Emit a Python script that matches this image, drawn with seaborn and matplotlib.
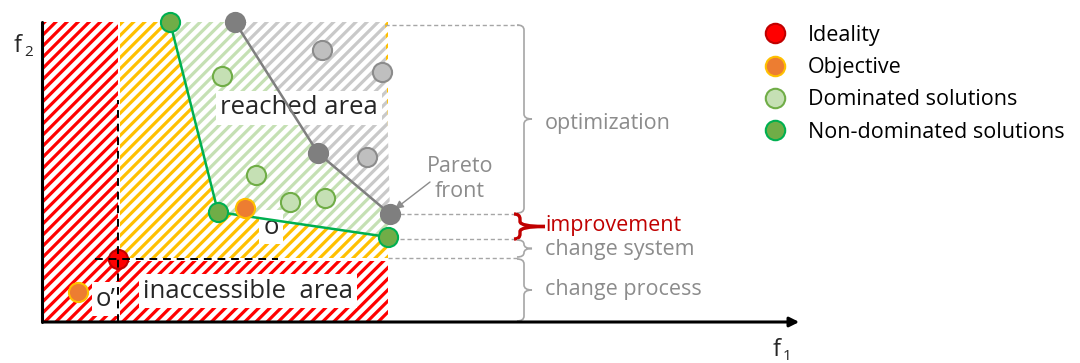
import matplotlib
matplotlib.use("Agg")
import matplotlib.pyplot as plt
from matplotlib.patches import Polygon, PathPatch
from matplotlib.path import Path
from matplotlib.lines import Line2D
import pandas as pd
import seaborn as sns

# objective space coordinates (f1, f2), origin at the axes corner
gray_front_f1 = [193, 276, 348]
gray_front_f2 = [300, 169, 108]
green_front_f1 = [128, 176, 346]
green_front_f2 = [300, 110, 85]
dominated_gray_f1 = [280, 340, 325]
dominated_gray_f2 = [272, 250, 165]
dominated_green_f1 = [180, 214, 248, 283]
dominated_green_f2 = [246, 147, 120, 124]
objective_f1 = [203, 36]
objective_f2 = [114, 30]
ideality_f1 = [76]
ideality_f2 = [63]

top_f2 = 300
right_f1 = 346

legend_labels = ["Ideality", "Objective", "Dominated solutions", "Non-dominated solutions"]
bracket_labels = ["optimization", "improvement", "change system", "change process"]

sns.set_theme(style="white")
plt.rcParams["font.family"] = ["Open Sans", "DejaVu Sans"]
plt.rcParams["hatch.linewidth"] = 2.3

fig = plt.figure(figsize=(10.8, 3.63), dpi=100)
ax = fig.add_axes([0, 0, 1, 1])
ax.set_xlim(-42, 1038)
ax.set_ylim(-41, 322)
ax.axis("off")


def hatched(points, color, face="white"):
    ax.add_patch(Polygon(points, closed=True, facecolor=face, edgecolor=color,
                         hatch="///", linewidth=0, zorder=1))


# areas
hatched([(0, top_f2), (ideality_f1[0], top_f2), (ideality_f1[0], 61), (right_f1, 61),
         (right_f1, 0), (0, 0)], "#FF0000")
hatched([(78, top_f2), (right_f1, top_f2), (right_f1, 64), (78, 64)], "#FFC000")
green_poly = list(zip(green_front_f1, green_front_f2)) + list(zip(gray_front_f1, gray_front_f2))[::-1]
hatched(green_poly, "#C5E0B4")
gray_poly = list(zip(gray_front_f1, gray_front_f2)) + [(343, top_f2)]
hatched(gray_poly, "#C9C9C9")

# axes arrows
ax.plot([0, 0], [0, top_f2], color="black", lw=2.2, zorder=6)
ax.annotate("", xy=(760, 0), xytext=(-1, 0),
            arrowprops=dict(arrowstyle="-|>", color="black", lw=2.2, mutation_scale=14), zorder=6)
ax.text(-24, 276, "f", fontsize=17, ha="center", va="center")
ax.text(-18, 269, "2", fontsize=11, ha="left", va="center")
ax.text(735, -28, "f", fontsize=17, ha="center", va="center")
ax.text(741, -34, "1", fontsize=11, ha="left", va="center")

# fronts
fronts = pd.DataFrame({
    "f1": gray_front_f1 + green_front_f1,
    "f2": gray_front_f2 + green_front_f2,
    "front": ["gray"] * 3 + ["green"] * 3,
})
sns.lineplot(data=fronts, x="f1", y="f2", hue="front", sort=False, estimator=None,
             palette={"gray": "#7F7F7F", "green": "#00B050"}, linewidth=1.8,
             legend=False, ax=ax, zorder=4)

# points
point_styles = [
    (dominated_gray_f1, dominated_gray_f2, "#BFBFBF", "#8C8C8C"),
    (gray_front_f1, gray_front_f2, "#7F7F7F", "#7F7F7F"),
    (dominated_green_f1, dominated_green_f2, "#C5E0B4", "#70AD47"),
    (green_front_f1, green_front_f2, "#70AD47", "#00B050"),
    (objective_f1, objective_f2, "#ED7D31", "#FFC000"),
    (ideality_f1, ideality_f2, "#FF0000", "#C00000"),
]
for fx, fy, fc, ec in point_styles:
    sns.scatterplot(x=fx, y=fy, s=190, color=fc, edgecolor=ec, linewidth=1.5,
                    ax=ax, zorder=5, legend=False)

# dashed guides to the ideality point
ax.plot([76, 76], [0, 222], color="black", lw=1.4, ls=(0, (4, 3)), zorder=6)
ax.plot([53, 236], [63, 63], color="black", lw=1.4, ls=(0, (4, 3)), zorder=6)

# labels inside areas
box = dict(facecolor="white", edgecolor="none", pad=3)
ax.text(257, 214, "reached area", fontsize=18.5, ha="center", va="center", bbox=box, zorder=3)
ax.text(206, 31, "inaccessible  area", fontsize=18.5, ha="center", va="center", bbox=box, zorder=3)
ax.text(64, 23, "o\u2019", fontsize=18.5, ha="center", va="center", bbox=box, zorder=3)
ax.text(229, 95, "o", fontsize=18.5, ha="center", va="center", bbox=box, zorder=3)
ax.text(418, 143, "Pareto\nfront", fontsize=15.5, color="#8C8C8C",
        ha="center", va="center", linespacing=1.25)
ax.annotate("", xy=(353, 113), xytext=(388, 140),
            arrowprops=dict(arrowstyle="-|>", color="#8C8C8C", lw=1, mutation_scale=12,
                            shrinkA=0, shrinkB=0))

# level guides
guide_levels = [(297, 343), (108, 358), (83, 358), (64, right_f1)]
for level, start in guide_levels:
    ax.plot([start, 476], [level, level], color="#A6A6A6", lw=1, ls=(0, (3, 2)), zorder=2)


def brace(x, y0, y1, color, lw, tip=8, w=7):
    ym = (y0 + y1) / 2
    r = min(5, abs(y0 - y1) / 4)
    s = 1 if y1 > y0 else -1
    verts = [(x - w, y0), (x, y0), (x, y0 + s * r),
             (x, ym - s * r), (x, ym), (x + tip, ym),
             (x, ym), (x, ym + s * r),
             (x, y1 - s * r), (x, y1), (x - w, y1)]
    codes = [Path.MOVETO, Path.CURVE3, Path.CURVE3,
             Path.LINETO, Path.CURVE3, Path.CURVE3,
             Path.CURVE3, Path.CURVE3,
             Path.LINETO, Path.CURVE3, Path.CURVE3]
    ax.add_patch(PathPatch(Path(verts, codes), facecolor="none", edgecolor=color, lw=lw, zorder=4))


brace(482, 297, 109, "#A6A6A6", 1.2)
brace(478, 108, 83, "#C00000", 2.4, tip=25, w=6)
brace(482, 82, 65, "#A6A6A6", 1.2)
brace(482, 63, 1, "#A6A6A6", 1.2)

label_f2 = [199, 96, 73, 32]
label_colors = ["#8C8C8C", "#C00000", "#8C8C8C", "#8C8C8C"]
for text, fy, col in zip(bracket_labels, label_f2, label_colors):
    ax.text(503, fy, text, fontsize=15.5, color=col, ha="left", va="center")

# legend
legend_styles = [("#FF0000", "#C00000"), ("#ED7D31", "#FFC000"),
                 ("#C5E0B4", "#70AD47"), ("#70AD47", "#00B050")]
handles = [Line2D([], [], marker="o", ls="", markersize=14, markerfacecolor=fc,
                  markeredgecolor=ec, markeredgewidth=1.5) for fc, ec in legend_styles]
ax.legend(handles, legend_labels, loc="upper left", bbox_to_anchor=(0.69, 0.955),
          frameon=False, fontsize=15.5, handletextpad=0.5, labelspacing=0.52,
          borderaxespad=0, labelcolor="black")

fig.savefig("out.png", dpi=100)
